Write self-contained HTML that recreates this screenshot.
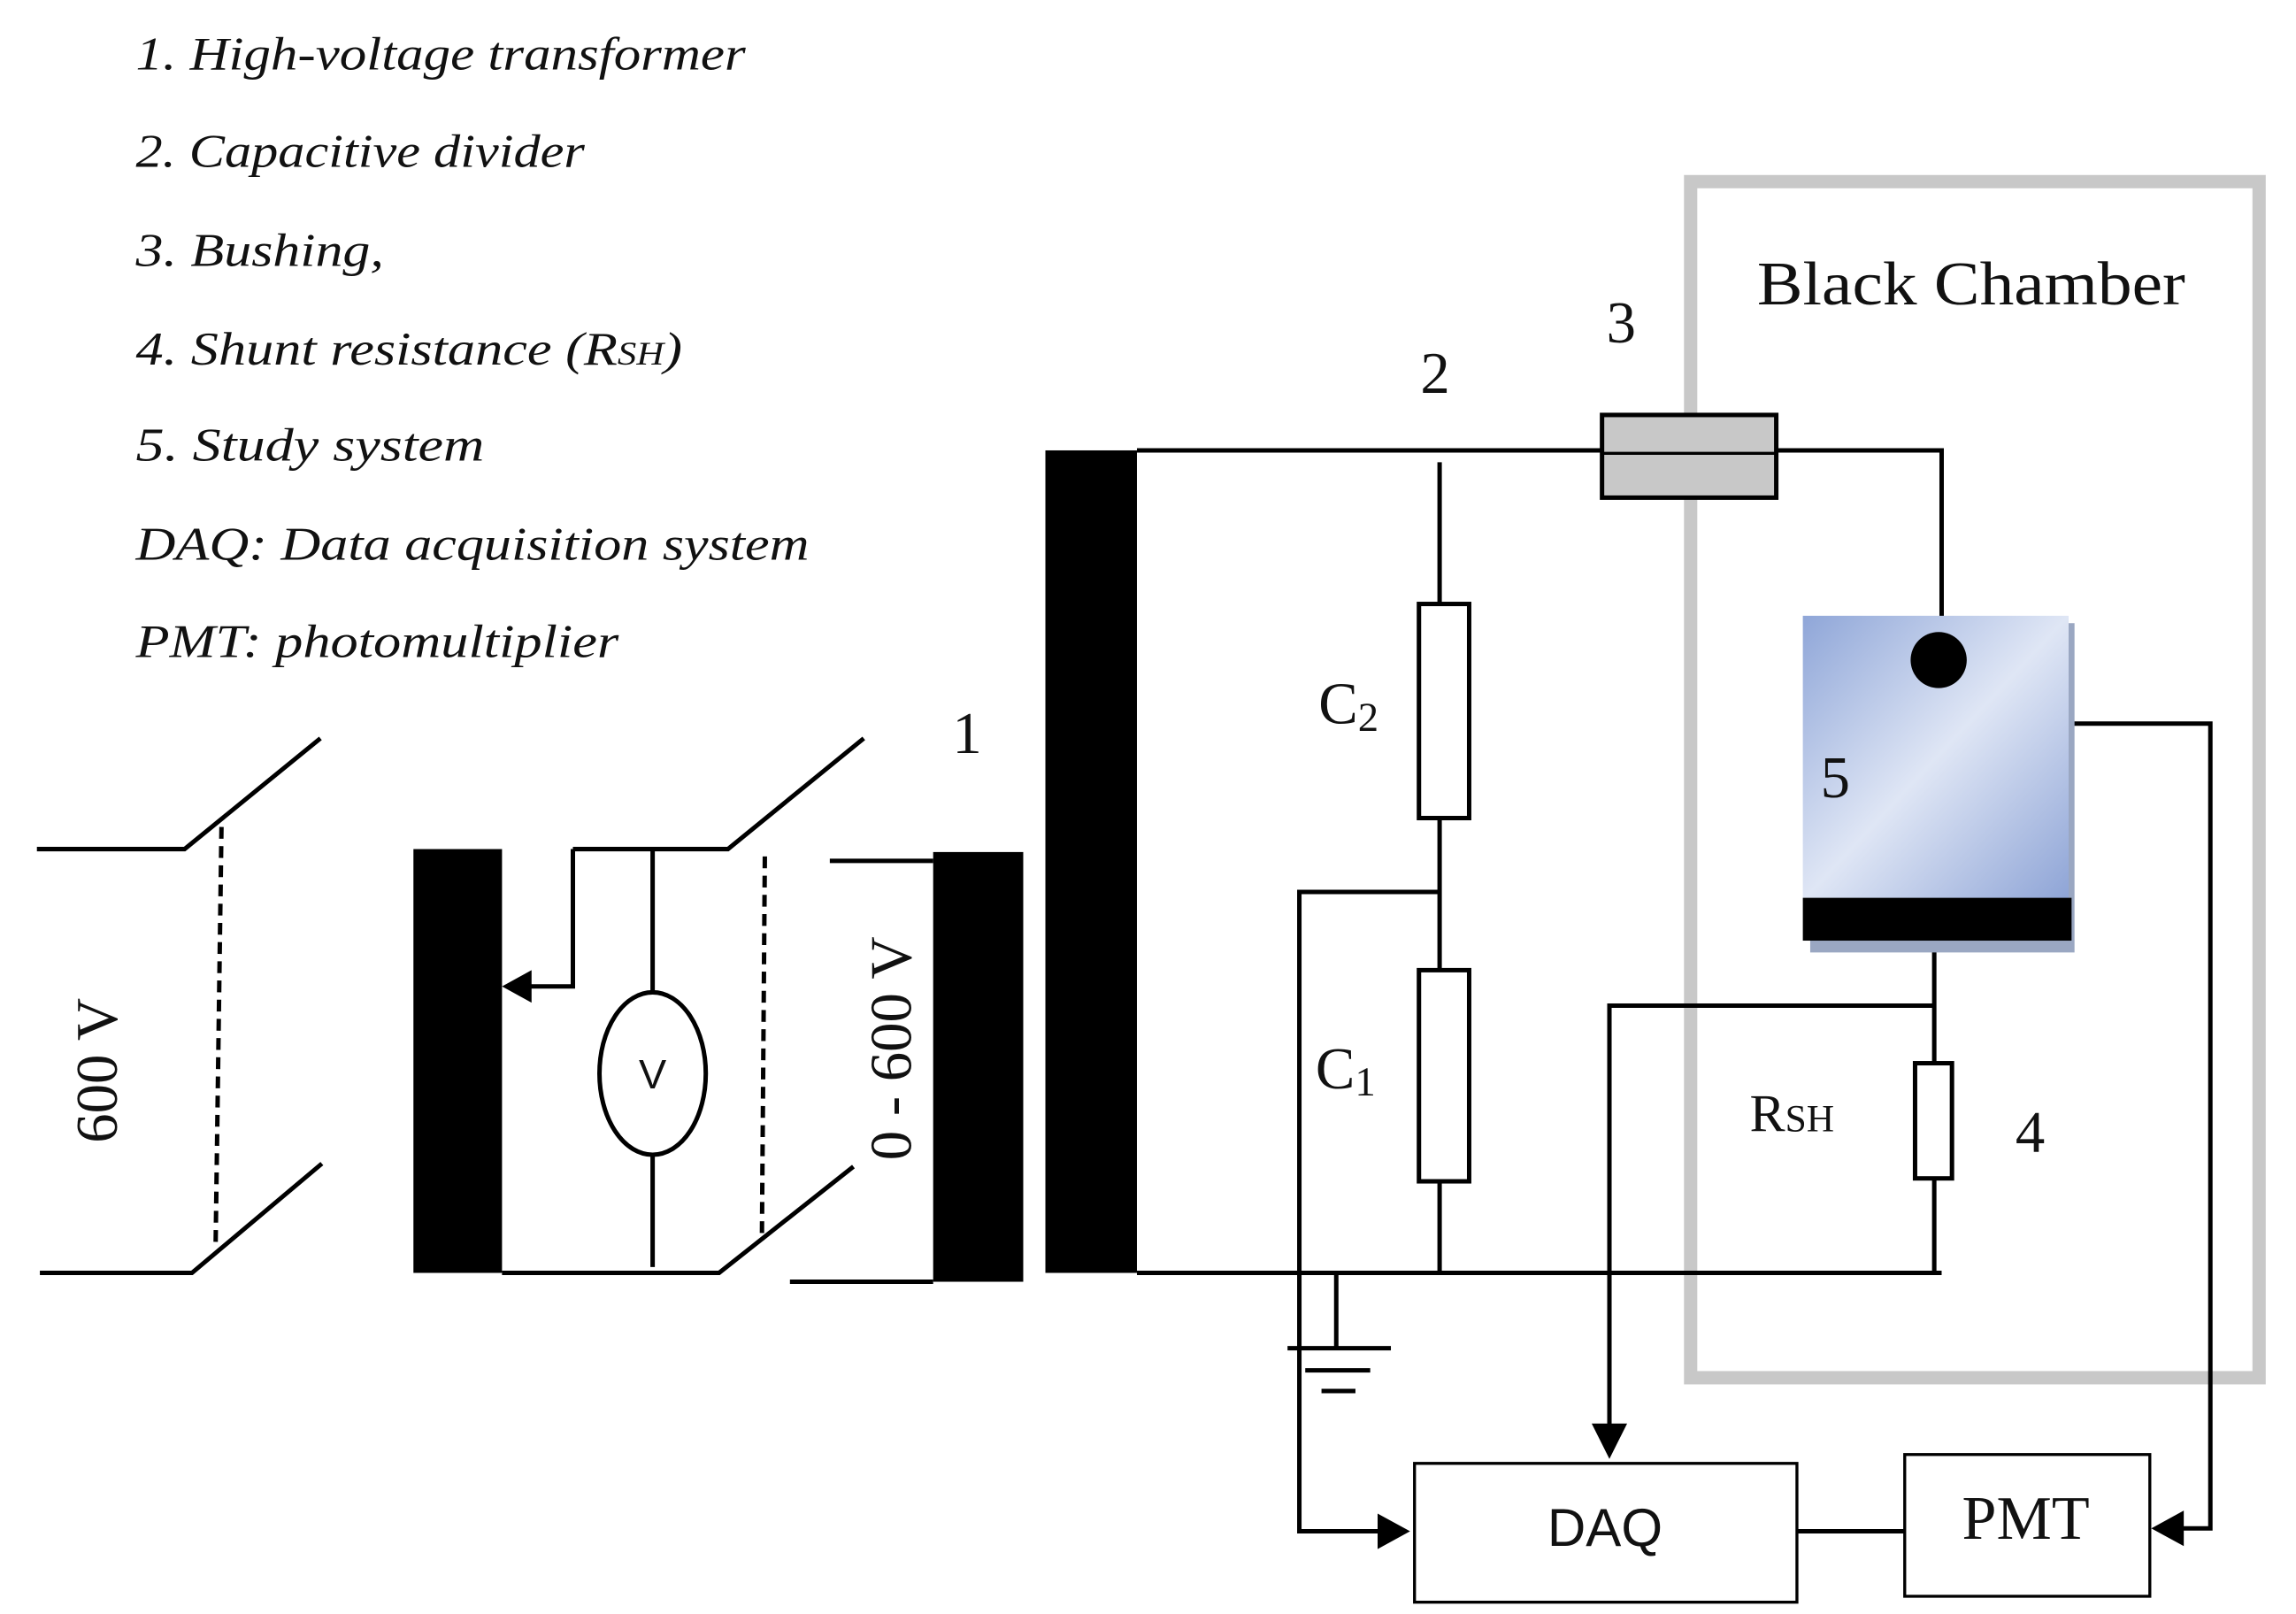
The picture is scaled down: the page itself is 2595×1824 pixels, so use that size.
<!DOCTYPE html>
<html><head><meta charset="utf-8"><style>
html,body{margin:0;padding:0;background:#fff;}
svg{display:block;}
.leg{font-family:"Liberation Serif",serif;font-style:italic;font-size:32px;fill:#111;}
.ser{font-family:"Liberation Serif",serif;fill:#111;}
.sans{font-family:"Liberation Sans",sans-serif;fill:#111;}
</style></head><body>
<svg width="2595" height="1824" viewBox="0 0 1555 1093" preserveAspectRatio="none" xmlns="http://www.w3.org/2000/svg">
<defs>
<linearGradient id="g" x1="0" y1="0" x2="1" y2="1">
<stop offset="0" stop-color="#8fa6d8"/><stop offset="0.5" stop-color="#dfe6f5"/><stop offset="1" stop-color="#8ea4d6"/>
</linearGradient>
</defs>
<g class="leg">
<text x="92" y="47" textLength="413" lengthAdjust="spacingAndGlyphs">1. High-voltage transformer</text>
<text x="92" y="113" textLength="304" lengthAdjust="spacingAndGlyphs">2. Capacitive divider</text>
<text x="92" y="180" textLength="168" lengthAdjust="spacingAndGlyphs">3. Bushing,</text>
<text x="92" y="247" textLength="370" lengthAdjust="spacingAndGlyphs">4. Shunt resistance (R<tspan font-size="22">SH</tspan>)</text>
<text x="92" y="312" textLength="236" lengthAdjust="spacingAndGlyphs">5. Study system</text>
<text x="92" y="379" textLength="456" lengthAdjust="spacingAndGlyphs">DAQ: Data acquisition system</text>
<text x="92" y="445" textLength="327" lengthAdjust="spacingAndGlyphs">PMT: photomultiplier</text>
</g>
<!-- chamber -->
<rect x="1145" y="123" width="385" height="810" fill="none" stroke="#c8c8c8" stroke-width="9"/>
<g stroke="#000" stroke-width="3" fill="none">
<polyline points="25,575 125,575 217,500"/>
<polyline points="27,862 130,862 218,788"/>
<line x1="150" y1="560" x2="146" y2="845" stroke-dasharray="8,5"/>
<polyline points="388,575 493,575 585,500"/>
<polyline points="340,862 487,862 578,790"/>
<line x1="518" y1="580" x2="516" y2="840" stroke-dasharray="8,5"/>
<polyline points="388,575 388,668 355,668"/>
<line x1="442" y1="575" x2="442" y2="672"/>
<line x1="442" y1="782" x2="442" y2="858"/>
<ellipse cx="442" cy="727" rx="36" ry="55"/>
<line x1="562" y1="583" x2="632" y2="583"/>
<line x1="535" y1="868" x2="632" y2="868"/>
<polyline points="770,305 1315,305 1315,440"/>
<line x1="770" y1="862" x2="1315" y2="862"/>
<line x1="975" y1="313" x2="975" y2="409"/>
<line x1="975" y1="554" x2="975" y2="657"/>
<line x1="975" y1="800" x2="975" y2="862"/>
<rect x="961" y="409" width="34" height="145"/>
<rect x="961" y="657" width="34" height="143"/>
<polyline points="975,604 880,604 880,1037 938,1037"/>
<line x1="905" y1="862" x2="905" y2="913"/>
<line x1="872" y1="913" x2="942" y2="913"/>
<line x1="884" y1="928" x2="928" y2="928"/>
<line x1="895" y1="942" x2="918" y2="942"/>
<line x1="1310" y1="637" x2="1310" y2="720"/>
<line x1="1310" y1="798" x2="1310" y2="862"/>
<rect x="1297" y="720" width="25" height="78"/>
<polyline points="1310,681 1090,681 1090,968"/>
<polyline points="1398,490 1497,490 1497,1035 1475,1035"/>
<line x1="1217" y1="1037" x2="1290" y2="1037"/>
<rect x="958" y="991" width="259" height="94" stroke-width="2"/>
<rect x="1290" y="985" width="166" height="96" stroke-width="2"/>
</g>
<polygon points="340,668 360,657 360,679" fill="#000"/>
<polygon points="955,1037 933,1025 933,1049" fill="#000"/>
<polygon points="1090,988 1078,964 1102,964" fill="#000"/>
<polygon points="1457,1035 1479,1023 1479,1047" fill="#000"/>
<rect x="280" y="575" width="60" height="287" fill="#000"/>
<rect x="632" y="577" width="61" height="291" fill="#000"/>
<rect x="708" y="305" width="62" height="557" fill="#000"/>
<rect x="1085" y="281" width="118" height="56" fill="#c8c8c8" stroke="#000" stroke-width="3"/>
<line x1="1085" y1="307" x2="1203" y2="307" stroke="#000" stroke-width="2"/>
<rect x="1226" y="422" width="179" height="223" fill="#9aa7c2"/>
<rect x="1221" y="417" width="180" height="193" fill="url(#g)"/>
<rect x="1221" y="608" width="182" height="29" fill="#000"/>
<circle cx="1313" cy="447" r="19" fill="#000"/>
<text class="ser" x="65" y="725" font-size="40" text-anchor="middle" transform="rotate(-90 65 725)" dy="14">600 V</text>
<text class="ser" x="603" y="710" font-size="40" text-anchor="middle" transform="rotate(-90 603 710)" dy="14">0 - 600 V</text>
<text class="sans" x="442" y="737" font-size="28" text-anchor="middle">V</text>
<text class="ser" x="655" y="510" font-size="40" text-anchor="middle">1</text>
<text class="ser" x="972" y="266" font-size="40" text-anchor="middle">2</text>
<text class="ser" x="1098" y="232" font-size="40" text-anchor="middle">3</text>
<text class="ser" x="1375" y="780" font-size="40" text-anchor="middle">4</text>
<text class="ser" x="1243" y="540" font-size="40" text-anchor="middle">5</text>
<text class="ser" x="893" y="490" font-size="40">C<tspan font-size="28" dy="5">2</tspan></text>
<text class="ser" x="891" y="737" font-size="40">C<tspan font-size="28" dy="5">1</tspan></text>
<text class="ser" x="1185" y="766" font-size="36">R<tspan font-size="26">SH</tspan></text>
<text class="ser" x="1190" y="206" font-size="42" textLength="290" lengthAdjust="spacingAndGlyphs">Black Chamber</text>
<text class="sans" x="1087" y="1047" font-size="36" text-anchor="middle">DAQ</text>
<text class="ser" x="1372" y="1042" font-size="42" text-anchor="middle">PMT</text>
</svg>
</body></html>
